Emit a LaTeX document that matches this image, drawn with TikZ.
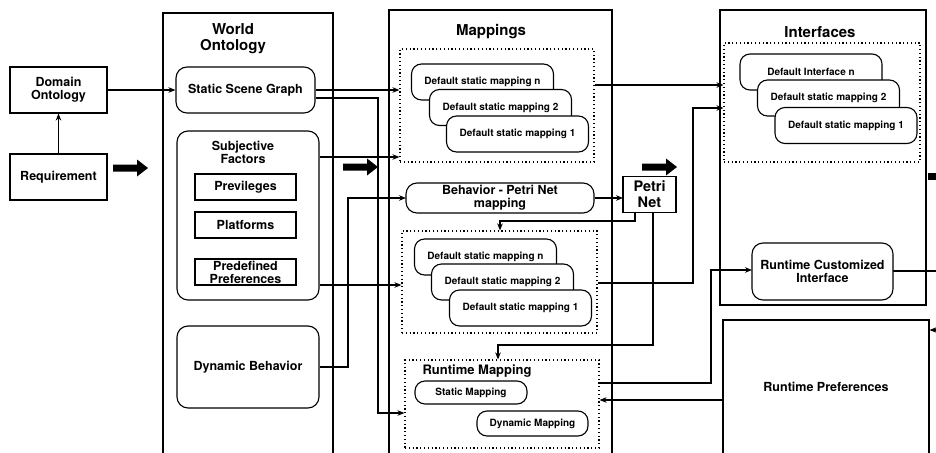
\documentclass[tikz,border=0pt]{standalone}
\usepackage{fontspec}
\setmainfont{TeX Gyre Heros}
\usetikzlibrary{arrows.meta}
\begin{document}
\begin{tikzpicture}[x=1pt,y=-1pt,line width=1.1pt,
  sz/.style 2 args={minimum width=#1pt,minimum height=#2pt},
  pbox/.style={draw,fill=white,inner sep=0pt,align=center,font=\fontsize{12.5}{13}\selectfont\bfseries},
  rbox/.style={pbox,rounded corners=11pt},
  cont/.style={draw,inner sep=0pt},
  dotbox/.style={draw,inner sep=0pt,dash pattern=on 1.2pt off 2.6pt},
  card/.style={draw,fill=white,rounded corners=10pt,inner sep=0pt,minimum width=142pt,minimum height=36pt,font=\fontsize{10}{11}\selectfont\bfseries},
  ttl/.style={inner sep=0pt,align=center,font=\fontsize{15}{16}\selectfont\bfseries},
  arr/.style={-{Stealth[length=7pt,width=5.5pt]}},
  fat/.pic={\fill (-35,-3.5) -- (-11,-3.5) -- (-11,-8.5) -- (0,0) -- (-11,8.5) -- (-11,3.5) -- (-35,3.5) -- cycle;}
]
\useasboundingbox (0,0) rectangle (936,452);
\clip (0,0) rectangle (936,452);

% containers
\node[cont,sz={170}{457}] (wo) at (248,241.5) {};
\node[cont,sz={223}{460}] (map) at (500.5,240) {};
\node[cont,sz={206}{295}] (int) at (823,157.5) {};
\node[cont,sz={206}{134},font=\fontsize{12.5}{13}\selectfont\bfseries] (rp) at (826,387) {Runtime Preferences};

\node[ttl] (wot) at (233,39) {World\\Ontology};
\node[ttl] (mapt) at (491,32) {Mappings};
\node[ttl] (intt) at (820,32) {Interfaces};

% dotted groups
\node[dotbox,sz={194}{113}] (d1) at (497,105.5) {};
\node[dotbox,sz={195}{102}] (d2) at (499.5,282) {};
\node[dotbox,sz={194}{88}] (rm) at (502,404) {};
\node[dotbox,sz={196}{119}] (d3) at (822,102.5) {};
\node[anchor=west,inner sep=0pt,font=\fontsize{13}{14}\selectfont\bfseries] (rmt) at (422,371) {Runtime Mapping};

% left boxes
\node[pbox,sz={97}{46}] (dom) at (58.5,90) {Domain\\Ontology};
\node[pbox,sz={97}{46}] (req) at (58.5,177) {Requirement};

\node[rbox,sz={139}{46}] (ssg) at (245.5,90) {Static Scene Graph};
\node[rbox,sz={142}{169}] (sf) at (248,215.5) {};
\node[ttl,font=\fontsize{12.5}{13}\selectfont\bfseries] (sft) at (243,152) {Subjective\\Factors};
\node[pbox,sz={101}{26}] (prev) at (245.5,187) {Previleges};
\node[pbox,sz={101}{26}] (plat) at (245.5,225) {Platforms};
\node[pbox,sz={101}{26}] (pref) at (245.5,272) {Predefined\\Preferences};
\node[rbox,sz={142}{82}] (db) at (248,367) {Dynamic Behavior};

% free ends
\coordinate (outA) at (945,271);
\coordinate (outB) at (945,330);

% connectors
\draw[arr] (req.north) -- (dom.south);
\draw[arr] (dom.east) -- (ssg.west);
\draw[arr] (ssg.east) -- (d1.west |- ssg.east);
\draw[arr] (ssg.east |- 0,98) -- (378,98) -- (378,413) -- (rm.west |- 0,413);
\draw[arr] (sf.east |- 0,157) -- (d1.west |- 0,157);
\draw[arr] (sf.east |- 0,285) -- (d2.west |- 0,285);
\draw[arr] (db.east) -- (348,367) -- (348,198) -- (406,198);
\draw[arr] (595,198) -- (623,198);
\draw[arr] (635,212) -- (635,221) -- (500,221) -- (d2.north -| 500,0);
\draw[arr] (653,212) -- (653,345) -- (498,345) -- (rm.north -| 498,0);
\draw[arr] (d1.east |- 0,85) -- (d3.west |- 0,85);
\draw[arr] (d2.east |- 0,283) -- (693,283) -- (693,108) -- (d3.west |- 0,108);
\draw[arr] (rm.east |- 0,383) -- (711,383) -- (711,270) -- (752,270);
\draw[arr] (rp.west |- 0,400) -- (rm.east |- 0,400);
\draw (893,271) -- (outA);
\draw[arr] (outB) -- (rp.east |- outB);

% mapping boxes
\node[rbox,sz={188}{30}] (bpm) at (500,198) {Behavior - Petri Net\\mapping};
\node[pbox,sz={53}{36},font=\fontsize{14.5}{16}\selectfont\bfseries] (petri) at (649.5,194.5) {Petri\\Net};

\node[card] (an) at (482.5,82) {Default static mapping n};
\node[card] (a2) at (500.5,107.5) {Default static mapping 2};
\node[card] (a1) at (517.5,134) {Default static mapping 1};

\node[card] (bn) at (485.5,257) {Default static mapping n};
\node[card] (b2) at (502.5,282) {Default static mapping 2};
\node[card] (b1) at (520.5,308) {Default static mapping 1};

\node[card,sz={112}{23}] (sm) at (471,392.5) {Static Mapping};
\node[card,sz={111}{25}] (dm) at (532.5,423.5) {Dynamic Mapping};

\node[card] (in) at (811,72) {Default Interface n};
\node[card] (i2) at (828.5,98) {Default static mapping 2};
\node[card] (i1) at (846,125.5) {Default static mapping 1};

\node[rbox,sz={141}{57}] (rci) at (822.5,271.5) {Runtime Customized\\Interface};

% fat arrows
\pic at (148,168) {fat};
\pic at (378,167) {fat};
\pic at (677,167) {fat};
\fill (928,173) rectangle (940,180);
\end{tikzpicture}
\end{document}
